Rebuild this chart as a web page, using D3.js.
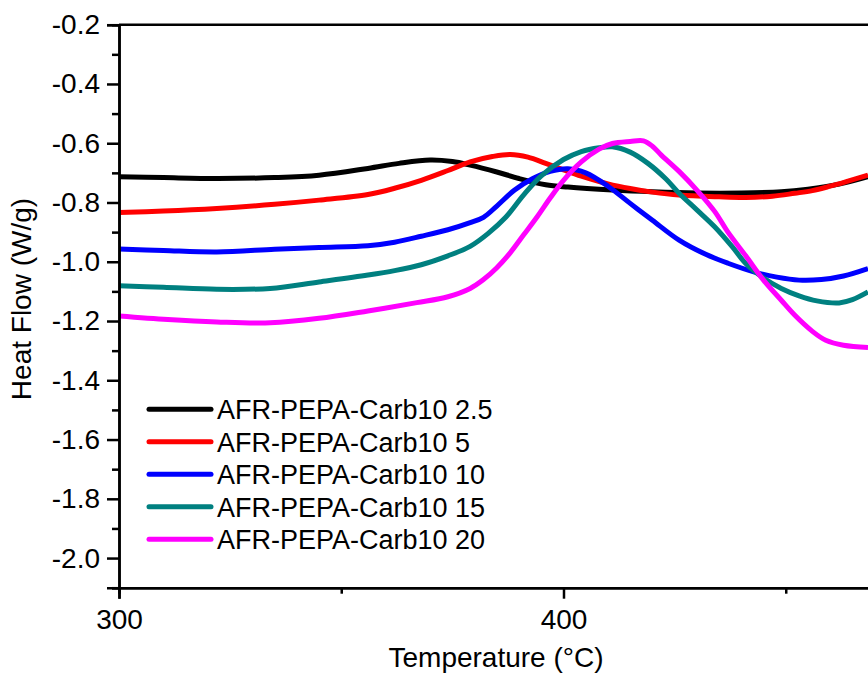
<!DOCTYPE html>
<html>
<head>
<meta charset="utf-8">
<script src="https://cdn.jsdelivr.net/npm/d3@7"></script>
<style>
  html, body { margin: 0; padding: 0; background: #fff; }
  svg { display: block; font-family: "Liberation Sans", Arial, sans-serif; }
</style>
</head>
<body>
<div id="chart"></div>
<script>
// temperatures (°C) and heat flow (W/g), one pair per sample
const temp25 = [300, 310, 322, 335, 345, 356, 363, 370, 375, 379, 385, 390, 396, 401, 411, 420, 430, 440, 449, 455, 462, 468.5]
const flow25 = [-0.713, -0.716, -0.719, -0.716, -0.708, -0.685, -0.668, -0.657, -0.662, -0.674, -0.697, -0.719, -0.740, -0.748, -0.758, -0.764, -0.768, -0.768, -0.764, -0.755, -0.738, -0.713]

const temp5 = [300, 310, 322, 335, 345, 356, 362, 368, 374, 379, 384, 388, 392, 396, 400, 404, 410, 415, 420, 426, 435, 441, 447, 452, 456, 460, 464, 468.5]
const flow5 = [-0.834, -0.829, -0.820, -0.806, -0.792, -0.773, -0.752, -0.725, -0.692, -0.663, -0.645, -0.638, -0.647, -0.668, -0.690, -0.711, -0.737, -0.753, -0.765, -0.775, -0.781, -0.783, -0.779, -0.769, -0.760, -0.745, -0.728, -0.708]

const temp10 = [300, 310, 322, 335, 345, 356, 362, 368, 374, 379, 382, 385, 389, 393, 397, 401, 405, 410, 415, 420, 426, 432, 437, 443, 448, 453, 458, 463, 468.5]
const flow10 = [-0.957, -0.962, -0.967, -0.958, -0.952, -0.946, -0.934, -0.914, -0.892, -0.868, -0.850, -0.812, -0.758, -0.720, -0.695, -0.686, -0.700, -0.745, -0.803, -0.860, -0.927, -0.975, -1.005, -1.035, -1.052, -1.062, -1.060, -1.048, -1.023]

const temp15 = [300, 310, 322, 334, 345, 356, 362, 368, 374, 379, 383, 387, 391, 395, 400, 404, 408, 411, 415, 419, 423, 426, 430, 434, 438, 441, 445, 449, 453, 457, 462, 465, 468.5]
const flow15 = [-1.081, -1.086, -1.093, -1.090, -1.068, -1.045, -1.030, -1.010, -0.980, -0.948, -0.905, -0.850, -0.775, -0.710, -0.655, -0.628, -0.615, -0.612, -0.630, -0.668, -0.720, -0.769, -0.825, -0.882, -0.950, -1.006, -1.055, -1.090, -1.115, -1.132, -1.139, -1.128, -1.102]

const temp20 = [300, 311, 322, 334, 345, 356, 367, 374, 379, 382, 385, 388, 391, 394, 397, 400, 404, 408, 411, 415, 418, 420, 422, 426, 430, 434, 437, 441, 445, 449, 452, 456, 459, 463, 468.5]
const flow20 = [-1.183, -1.195, -1.203, -1.206, -1.191, -1.166, -1.138, -1.118, -1.090, -1.060, -1.020, -0.970, -0.910, -0.850, -0.785, -0.725, -0.663, -0.620, -0.601, -0.594, -0.592, -0.610, -0.640, -0.695, -0.758, -0.830, -0.900, -0.980, -1.062, -1.130, -1.180, -1.235, -1.265, -1.282, -1.289]

const seriesNames = ['AFR-PEPA-Carb10 2.5', 'AFR-PEPA-Carb10 5', 'AFR-PEPA-Carb10 10', 'AFR-PEPA-Carb10 15', 'AFR-PEPA-Carb10 20']
const seriesColors = ['#000000', '#ff0000', '#0000ff', '#008080', '#ff00ff']
const xMajorTicks = [300, 400]
const xMinorTicks = [350, 450]
const yMajorTicks = [-0.2, -0.4, -0.6, -0.8, -1.0, -1.2, -1.4, -1.6, -1.8, -2.0]
const yMinorTicks = [-0.3, -0.5, -0.7, -0.9, -1.1, -1.3, -1.5, -1.7, -1.9, -2.1]

const series = [
  [temp25, flow25], [temp5, flow5], [temp10, flow10], [temp15, flow15], [temp20, flow20]
].map(([t, f], i) => ({
  name: seriesNames[i],
  color: seriesColors[i],
  values: t.map((d, j) => ({ t: d, f: f[j] }))
}))

const width = 868
const height = 680
const plotLeft = 119
const plotTop = 24.7
const plotBottom = 587.7

// the plot runs past the right edge of the picture
const x = d3.scaleLinear().domain([300, 500]).range([plotLeft, plotLeft + 889])
const y = d3.scaleLinear().domain([-2.1, -0.2]).range([plotBottom, plotTop])

const svg = d3.select('#chart')
  .append('svg')
  .attr('width', width)
  .attr('height', height)

// curves
const line = d3.line()
  .x(d => x(d.t))
  .y(d => y(d.f))
  .curve(d3.curveCatmullRom.alpha(0.5))

svg.append('g')
  .selectAll('path')
  .data(series)
  .join('path')
  .attr('fill', 'none')
  .attr('stroke', d => d.color)
  .attr('stroke-width', 5)
  .attr('stroke-linejoin', 'round')
  .attr('d', d => line(d.values))

// top frame line
svg.append('line')
  .attr('x1', plotLeft).attr('x2', width + 10)
  .attr('y1', y(-0.2)).attr('y2', y(-0.2))
  .attr('stroke', '#000').attr('stroke-width', 2.5)

// axes
const styleAxis = (g) => {
  g.select('.domain').attr('stroke', '#000').attr('stroke-width', 2.5)
  g.selectAll('.tick line').attr('stroke', '#000').attr('stroke-width', 2.5)
  g.selectAll('.tick text').attr('fill', '#000').attr('font-size', 28)
}

svg.append('g')
  .attr('transform', `translate(0,${plotBottom})`)
  .call(d3.axisBottom(x).tickValues(xMinorTicks).tickSize(6).tickFormat(''))
  .call(styleAxis)

svg.append('g')
  .attr('transform', `translate(0,${plotBottom})`)
  .call(d3.axisBottom(x).tickValues(xMajorTicks).tickSize(11).tickPadding(10).tickFormat(d3.format('d')))
  .call(styleAxis)

svg.append('g')
  .attr('transform', `translate(${plotLeft},0)`)
  .call(d3.axisLeft(y).tickValues(yMinorTicks).tickSize(7).tickFormat(''))
  .call(styleAxis)

svg.append('g')
  .attr('transform', `translate(${plotLeft},0)`)
  .call(d3.axisLeft(y).tickValues(yMajorTicks).tickSize(12).tickPadding(7).tickFormat(d => d.toFixed(1)))
  .call(styleAxis)

// axis titles
svg.append('text')
  .attr('x', 496)
  .attr('y', 667)
  .attr('text-anchor', 'middle')
  .attr('font-size', 28)
  .text('Temperature (°C)')

svg.append('text')
  .attr('transform', 'translate(31,299) rotate(-90)')
  .attr('text-anchor', 'middle')
  .attr('font-size', 28)
  .text('Heat Flow (W/g)')

// legend
const legend = svg.append('g')
  .selectAll('g')
  .data(series)
  .join('g')
  .attr('transform', (d, i) => `translate(149,${409.3 + i * 32.5})`)

legend.append('line')
  .attr('x1', 0).attr('x2', 62)
  .attr('stroke', d => d.color)
  .attr('stroke-width', 5)
  .attr('stroke-linecap', 'round')

legend.append('text')
  .attr('x', 68)
  .attr('dy', '0.36em')
  .attr('font-size', 27)
  .text(d => d.name)
</script>
</body>
</html>
